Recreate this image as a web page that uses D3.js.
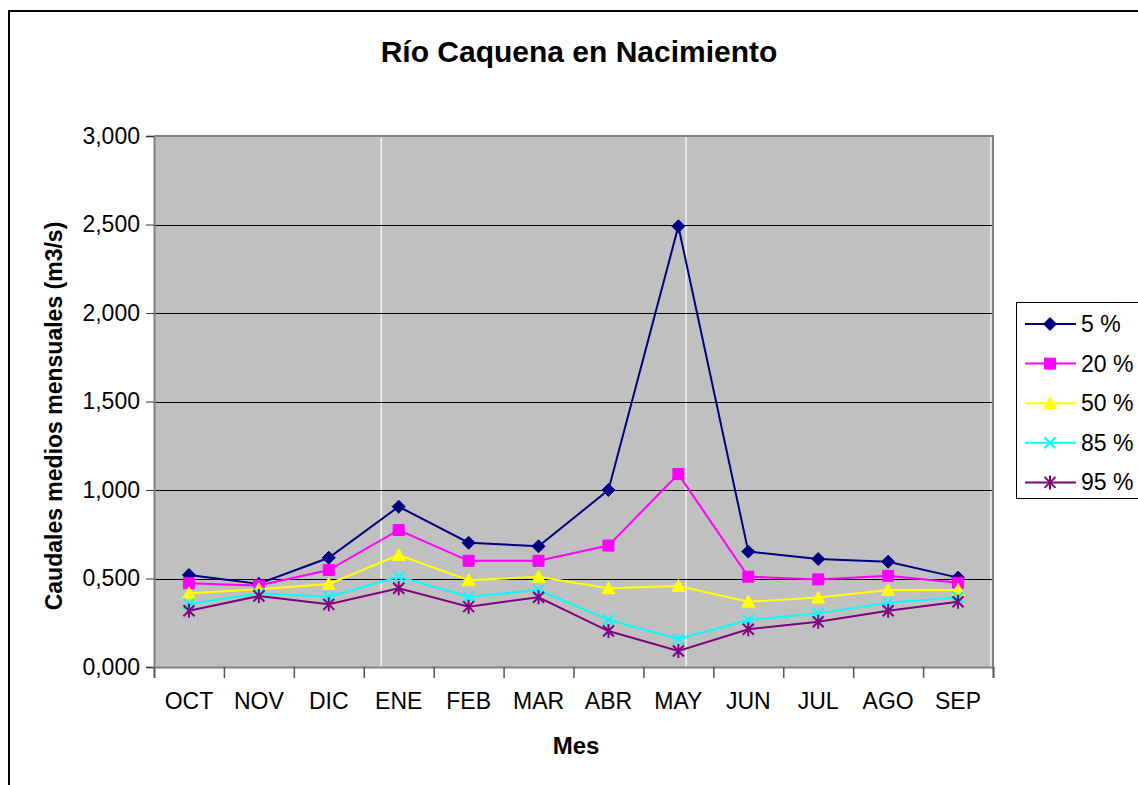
<!DOCTYPE html>
<html>
<head>
<meta charset="utf-8">
<script src="https://cdn.jsdelivr.net/npm/d3@7"></script>
<style>
  body { margin: 0; background: #fff; }
  text { font-family: "Liberation Sans", Arial, sans-serif; fill: #000; }
</style>
</head>
<body>
<svg id="chart" width="1138" height="785"></svg>
<script>
// data
let months = ['OCT', 'NOV', 'DIC', 'ENE', 'FEB', 'MAR', 'ABR', 'MAY', 'JUN', 'JUL', 'AGO', 'SEP']
let yTicks = [0, 0.5, 1, 1.5, 2, 2.5, 3]
let seriesNames = ['5 %', '20 %', '50 %', '85 %', '95 %']
let p05 = [0.520, 0.470, 0.617, 0.906, 0.702, 0.682, 1.000, 2.490, 0.652, 0.610, 0.595, 0.505]
let p20 = [0.473, 0.460, 0.548, 0.774, 0.600, 0.600, 0.686, 1.090, 0.510, 0.495, 0.515, 0.476]
let p50 = [0.416, 0.439, 0.469, 0.633, 0.490, 0.510, 0.445, 0.458, 0.369, 0.392, 0.435, 0.435]
let p85 = [0.356, 0.416, 0.397, 0.510, 0.397, 0.435, 0.266, 0.158, 0.266, 0.303, 0.363, 0.394]
let p95 = [0.318, 0.401, 0.354, 0.445, 0.341, 0.394, 0.203, 0.090, 0.213, 0.256, 0.318, 0.369]

let seriesValues = [p05, p20, p50, p85, p95]
let colors = ['#000080', '#FF00FF', '#FFFF00', '#00FFFF', '#800080']
let markers = ['diamond', 'square', 'triangle', 'times', 'asterisk']

let svg = d3.select('#chart')

let plotLeft = 154, plotRight = 993, plotTop = 136, plotBottom = 667

let x = d3.scaleBand().domain(months).range([plotLeft, plotRight]).padding(0)
let xEdge = d3.scaleLinear().domain([0, months.length]).range([plotLeft, plotRight])
let y = d3.scaleLinear().domain([0, 3]).range([plotBottom, plotTop])

let fmt = (v) => d3.format('.3f')(v).replace('.', ',')

// marker paths, centred on 0,0
let markerPath = (type) => {
    if (type === 'diamond') return 'M0,-6.5L6.5,0L0,6.5L-6.5,0Z'
    if (type === 'square') return 'M-5.5,-5.5H5.5V5.5H-5.5Z'
    if (type === 'triangle') return 'M0,-6.5L6.5,5.5H-6.5Z'
    if (type === 'times') return 'M-5.5,-5.5L5.5,5.5M-5.5,5.5L5.5,-5.5'
    return 'M-5.5,-5.5L5.5,5.5M-5.5,5.5L5.5,-5.5M0,-7V7'
}
let isStroke = (type) => type === 'times' || type === 'asterisk'

// outer chart frame
svg.append('rect')
    .attr('x', 9).attr('y', 11)
    .attr('width', 1140).attr('height', 790)
    .attr('fill', 'none')
    .attr('stroke', '#000')
    .attr('stroke-width', 2)

// plot area
svg.append('rect')
    .attr('x', plotLeft).attr('y', plotTop)
    .attr('width', plotRight - plotLeft).attr('height', plotBottom - plotTop)
    .attr('fill', '#C0C0C0')

// stray white vertical lines seen in the original rendering
svg.selectAll('.whiteline')
    .data([3.25, 7.61, 11.97])
    .enter()
    .append('line')
    .attr('x1', (d) => xEdge(d)).attr('x2', (d) => xEdge(d))
    .attr('y1', plotTop).attr('y2', plotBottom)
    .attr('stroke', '#fff')
    .attr('stroke-width', 1.2)

// gridlines
svg.selectAll('.grid')
    .data(yTicks.filter((d) => d > 0 && d < 3))
    .enter()
    .append('line')
    .attr('x1', plotLeft).attr('x2', plotRight)
    .attr('y1', (d) => Math.round(y(d)) + 0.5)
    .attr('y2', (d) => Math.round(y(d)) + 0.5)
    .attr('stroke', '#000')
    .attr('stroke-width', 1)

// plot border top and right
svg.append('path')
    .attr('d', 'M' + plotLeft + ',' + plotTop + 'H' + plotRight + 'V' + plotBottom)
    .attr('fill', 'none')
    .attr('stroke', '#808080')
    .attr('stroke-width', 2)

// y axis
let yAxis = svg.append('g')
    .attr('transform', 'translate(' + plotLeft + ',0)')
    .call(d3.axisLeft(y).tickValues(yTicks).tickFormat(fmt).tickSize(8).tickPadding(6))
yAxis.select('.domain').attr('stroke', '#808080').attr('stroke-width', 2)
yAxis.selectAll('.tick line').attr('stroke', '#333').attr('stroke-width', 1)
yAxis.selectAll('text')
    .style('font-size', '23px')
    .style('font-family', '"Liberation Sans", Arial, sans-serif')
    .attr('fill', '#000')

// x axis, ticks on category edges
let xTickAxis = svg.append('g')
    .attr('transform', 'translate(0,' + plotBottom + ')')
    .call(d3.axisBottom(xEdge).tickValues(d3.range(months.length + 1)).tickFormat('').tickSize(11))
xTickAxis.select('.domain').attr('stroke', '#808080').attr('stroke-width', 2)
xTickAxis.selectAll('.tick line').attr('stroke', '#555').attr('stroke-width', 1.5)

let xLabelAxis = svg.append('g')
    .attr('transform', 'translate(0,' + plotBottom + ')')
    .call(d3.axisBottom(x).tickSize(0).tickPadding(26))
xLabelAxis.select('.domain').remove()
xLabelAxis.selectAll('text')
    .style('font-size', '23px')
    .style('font-family', '"Liberation Sans", Arial, sans-serif')
    .attr('fill', '#000')

// series lines and markers
let line = d3.line()
    .x((d, i) => x(months[i]) + x.bandwidth() / 2)
    .y((d) => y(d))

seriesValues.forEach((vals, s) => {
    svg.append('path')
        .datum(vals)
        .attr('d', line)
        .attr('fill', 'none')
        .attr('stroke', colors[s])
        .attr('stroke-width', 2)

    svg.selectAll('.m' + s)
        .data(vals)
        .enter()
        .append('path')
        .attr('class', 'm' + s)
        .attr('transform', (d, i) => 'translate(' + (x(months[i]) + x.bandwidth() / 2) + ',' + y(d) + ')')
        .attr('d', markerPath(markers[s]))
        .attr('fill', isStroke(markers[s]) ? 'none' : colors[s])
        .attr('stroke', colors[s])
        .attr('stroke-width', isStroke(markers[s]) ? 2 : 1)
})

// titles
svg.append('text')
    .attr('x', 579).attr('y', 62)
    .attr('text-anchor', 'middle')
    .style('font-size', '30px')
    .style('font-weight', 'bold')
    .text('Río Caquena en Nacimiento')

svg.append('text')
    .attr('x', 576).attr('y', 754)
    .attr('text-anchor', 'middle')
    .style('font-size', '24px')
    .style('font-weight', 'bold')
    .text('Mes')

svg.append('text')
    .attr('transform', 'translate(62,416) rotate(-90)')
    .attr('text-anchor', 'middle')
    .style('font-size', '23px')
    .style('font-weight', 'bold')
    .text('Caudales medios mensuales (m3/s)')

// legend
svg.append('rect')
    .attr('x', 1016.5).attr('y', 302.5)
    .attr('width', 140).attr('height', 196)
    .attr('fill', '#fff')
    .attr('stroke', '#000')
    .attr('stroke-width', 1)

let legend = svg.append('g')

let rows = legend.selectAll('g')
    .data(seriesNames)
    .enter()
    .append('g')
    .attr('transform', (d, i) => 'translate(0,' + (324 + i * 39.6) + ')')

rows.append('line')
    .attr('x1', 1025).attr('x2', 1076)
    .attr('stroke', (d, i) => colors[i])
    .attr('stroke-width', 2)

rows.append('path')
    .attr('transform', 'translate(1050,0)')
    .attr('d', (d, i) => markerPath(markers[i]))
    .attr('fill', (d, i) => isStroke(markers[i]) ? 'none' : colors[i])
    .attr('stroke', (d, i) => colors[i])
    .attr('stroke-width', (d, i) => isStroke(markers[i]) ? 2 : 1)

rows.append('text')
    .attr('x', 1081).attr('y', 8)
    .style('font-size', '23px')
    .text((d) => d)
</script>
</body>
</html>
